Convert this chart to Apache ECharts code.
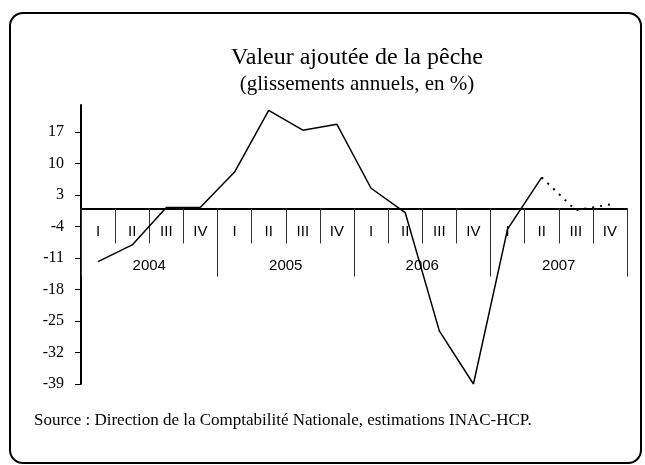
<!DOCTYPE html>
<html>
<head>
<meta charset="utf-8">
<script src="https://cdn.jsdelivr.net/npm/echarts@6/dist/echarts.min.js"></script>
<style>
  html, body { margin: 0; padding: 0; background: #fff; }
  #main { width: 645px; height: 465px; }
</style>
</head>
<body>
<div id="main"></div>
<script>
// trimestres et années
var quarters = ['I', 'II', 'III', 'IV', 'I', 'II', 'III', 'IV', 'I', 'II', 'III', 'IV', 'I', 'II', 'III', 'IV']
var years = ['2004', '2005', '2006', '2007']
// glissements annuels (%), partie réalisée puis estimation en pointillés
var observed = [-11.8, -8.1, 0.2, 0.3, 8.1, 21.8, 17.4, 18.7, 4.5, -0.9, -27.2, -39, -4.6, 6.9, null, null]
var estimated = [null, null, null, null, null, null, null, null, null, null, null, null, null, 6.9, -0.4, 0.9]
var yTicks = [-39, -32, -25, -18, -11, -4, 3, 10, 17]

var serif = 'Liberation Serif'
var sans = 'Liberation Sans'

var yMin = -39
var yMax = 23
var gridTop = 105
var gridBottom = 81
var plotH = 465 - gridTop - gridBottom
// l'axe des abscisses passe par zéro : décalage depuis le bas de la grille
var zeroOffset = -(plotH * (0 - yMin) / (yMax - yMin))

var chart = echarts.init(document.getElementById('main'))

var option = {
  animation: false,
  backgroundColor: '#fff',
  title: [
    {
      text: 'Valeur ajoutée de la pêche',
      left: 357,
      top: 46,
      textAlign: 'center',
      padding: 0,
      textStyle: { fontFamily: serif, fontSize: 24, fontWeight: 'normal', color: '#000' }
    },
    {
      text: '(glissements annuels, en %)',
      left: 357,
      top: 74,
      textAlign: 'center',
      padding: 0,
      textStyle: { fontFamily: serif, fontSize: 21, fontWeight: 'normal', color: '#000' }
    },
    {
      text: 'Source : Direction de la Comptabilité Nationale, estimations INAC-HCP.',
      left: 34,
      top: 412,
      padding: 0,
      textStyle: { fontFamily: serif, fontSize: 17, fontWeight: 'normal', color: '#000' }
    }
  ],
  graphic: [
    {
      type: 'rect',
      shape: { x: 10, y: 13, width: 631, height: 450, r: 13 },
      style: { fill: 'none', stroke: '#000', lineWidth: 2 },
      silent: true
    }
  ],
  grid: { left: 81, right: 18, top: gridTop, bottom: gridBottom },
  xAxis: [
    {
      type: 'category',
      data: quarters,
      position: 'bottom',
      offset: zeroOffset,
      axisLine: { show: true, onZero: false, lineStyle: { color: '#000', width: 2 } },
      axisTick: { show: true, interval: 0, length: 35, lineStyle: { color: '#333', width: 1 } },
      axisLabel: { interval: 0, margin: 16, fontFamily: sans, fontSize: 15, color: '#000' },
      splitLine: { show: false }
    },
    {
      type: 'category',
      data: years,
      position: 'bottom',
      offset: zeroOffset,
      axisLine: { show: false, onZero: false },
      axisTick: { show: true, interval: 0, length: 68, lineStyle: { color: '#333', width: 1 } },
      axisLabel: { interval: 0, margin: 50, fontFamily: sans, fontSize: 15, color: '#000' },
      splitLine: { show: false }
    }
  ],
  yAxis: {
    type: 'value',
    min: yMin,
    max: yMax,
    interval: 7,
    axisLine: { show: true, onZero: false, lineStyle: { color: '#000', width: 2 } },
    axisTick: { show: true, length: 6, customValues: yTicks, lineStyle: { color: '#000', width: 1 } },
    axisLabel: { margin: 17, customValues: yTicks, fontFamily: serif, fontSize: 16, color: '#000' },
    splitLine: { show: false }
  },
  series: [
    {
      name: 'observé',
      type: 'line',
      data: observed,
      symbol: 'none',
      z: 5,
      lineStyle: { color: '#000', width: 1.5 }
    },
    {
      name: 'estimation',
      type: 'line',
      data: estimated,
      symbol: 'none',
      z: 5,
      lineStyle: { color: '#000', width: 2, type: [2, 6] }
    }
  ]
}

chart.setOption(option)
</script>
</body>
</html>
